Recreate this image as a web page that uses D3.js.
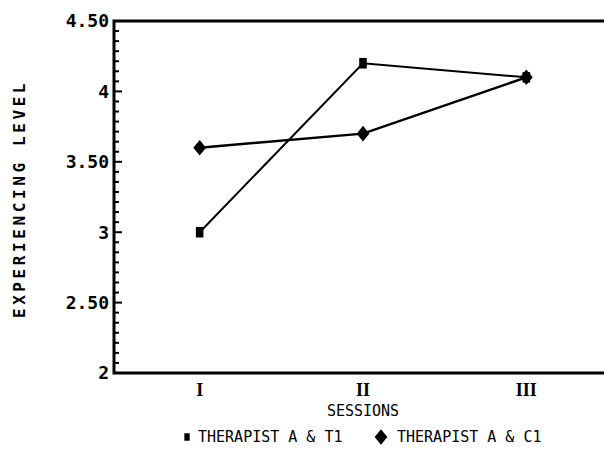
<!DOCTYPE html>
<html>
    <head>
        <style>
            body { margin: 0; background: #fff; }
            text { font-family: "DejaVu Sans Mono", monospace; fill: #000; }
        </style>
    </head>
    <body>
        <svg></svg>

        <script src="https://d3js.org/d3.v7.min.js"></script>

        <script>
            const sessions = ["I", "II", "III"];
            const seriesNames = ["THERAPIST A & T1", "THERAPIST A & C1"];
            const t1Values = [3.0, 4.2, 4.1];
            const c1Values = [3.6, 3.7, 4.1];
            const yTicks = [2, 2.5, 3, 3.5, 4, 4.5];
            const yTickLabels = ["2", "2.50", "3", "3.50", "4", "4.50"];

            const width = 604,
                height = 458;

            const svg = d3.select("svg")
                        .attr("width", width)
                        .attr("height", height);

            const x = d3.scalePoint()
                        .domain(sessions)
                        .range([118, 608])
                        .padding(0.5);

            const y = d3.scaleLinear()
                        .domain([2, 4.5])
                        .range([373, 21]);

            // plotter style markers: tall block and wide diamond
            const tallSquare = {
                draw: function(context, size) {
                    const w = Math.sqrt(size / 1.4), h = w * 1.4;
                    context.rect(-w / 2, -h / 2, w, h);
                }
            };
            const wideDiamond = {
                draw: function(context, size) {
                    const r = Math.sqrt(size / 2);
                    const rx = r * 0.9, ry = r * 1.1;
                    context.moveTo(0, -ry);
                    context.lineTo(rx, 0);
                    context.lineTo(0, ry);
                    context.lineTo(-rx, 0);
                    context.closePath();
                }
            };

            // minor ticks: seven steps between each labelled value
            const minor = d3.range(0, 36).map(function(i) { return 2 + i * 0.5 / 7; });

            const left = 114;

            svg.selectAll(".minor")
                .data(minor)
                .enter()
                .append("line")
                .attr("x1", left)
                .attr("x2", function(d, i) { return i % 7 === 0 ? left + 8 : left + 5; })
                .attr("y1", y)
                .attr("y2", y)
                .attr("stroke", "#000")
                .attr("stroke-width", 2);

            // frame: left axis, bottom axis, top line
            svg.append("path")
                .attr("d", "M" + width + "," + y(4.5) + "H" + left + "V" + y(2) + "H" + width)
                .attr("fill", "none")
                .attr("stroke", "#000")
                .attr("stroke-width", 3);

            svg.selectAll(".ylab")
                .data(yTicks)
                .enter()
                .append("text")
                .attr("x", left - 5)
                .attr("y", y)
                .attr("dy", "0.36em")
                .attr("text-anchor", "end")
                .style("font-size", "18px")
                .style("font-weight", "bold")
                .text(function(d, i) { return yTickLabels[i]; });

            svg.selectAll(".xlab")
                .data(sessions)
                .enter()
                .append("text")
                .attr("x", x)
                .attr("y", 396)
                .attr("text-anchor", "middle")
                .style("font-size", "18px")
                .style("font-weight", "bold")
                .style("font-family", "'Liberation Serif', serif")
                .text(function(d) { return d; });

            svg.append("text")
                .attr("x", x("II"))
                .attr("y", 416)
                .attr("text-anchor", "middle")
                .style("font-size", "15px")
                .text("SESSIONS");

            svg.append("text")
                .attr("transform", "translate(25,199) rotate(-90)")
                .attr("text-anchor", "middle")
                .style("font-size", "16px")
                .style("letter-spacing", "3.6px")
                .style("font-weight", "bold")
                .text("EXPERIENCING LEVEL");

            const line = d3.line()
                        .x(function(d, i) { return x(sessions[i]); })
                        .y(function(d) { return y(d); });

            svg.append("path")
                .datum(t1Values)
                .attr("d", line)
                .attr("fill", "none")
                .attr("stroke", "#000")
                .attr("stroke-width", 2);

            svg.append("path")
                .datum(c1Values)
                .attr("d", line)
                .attr("fill", "none")
                .attr("stroke", "#000")
                .attr("stroke-width", 2.5);

            const square = d3.symbol().type(tallSquare).size(80);
            const diamond = d3.symbol().type(wideDiamond).size(100);

            svg.selectAll(".t1")
                .data(t1Values)
                .enter()
                .append("path")
                .attr("d", square)
                .attr("transform", function(d, i) { return "translate(" + x(sessions[i]) + "," + y(d) + ")"; });

            svg.selectAll(".c1")
                .data(c1Values)
                .enter()
                .append("path")
                .attr("d", diamond)
                .attr("transform", function(d, i) { return "translate(" + x(sessions[i]) + "," + y(d) + ")"; });

            // legend
            const legend = svg.selectAll(".legend")
                        .data(seriesNames)
                        .enter()
                        .append("g")
                        .attr("transform", function(d, i) { return "translate(" + (i === 0 ? 187 : 381) + ",437)"; });

            legend.append("path")
                .attr("d", function(d, i) { return i === 0 ? d3.symbol().type(tallSquare).size(40)() : diamond(); });

            legend.append("text")
                .attr("x", function(d, i) { return i === 0 ? 11 : 16; })
                .attr("dy", "0.36em")
                .style("font-size", "15px")
                .text(function(d) { return d; });
        </script>
    </body>
</html>
